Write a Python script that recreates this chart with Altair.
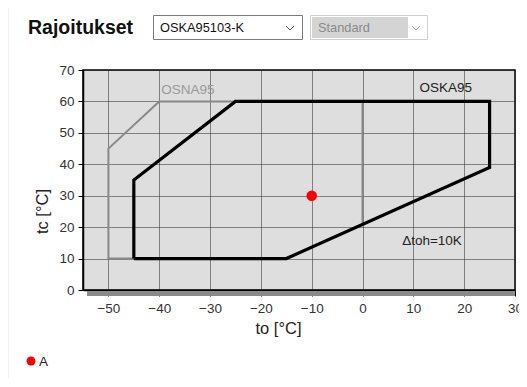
import altair as alt
import pandas as pd

# ---- data ----
oskb_to = [-45, -45, -25, 25, 25, -15, -45]
oskb_tc = [10, 35, 60, 60, 39, 10, 10]
osna_to = [-15, -50, -50, -40, 0, 0]
osna_tc = [10, 10, 45, 60, 60, 21]
point_to = [-10]
point_tc = [30]
x_ticks = [-50, -40, -30, -20, -10, 0, 10, 20, 30]
y_ticks = [0, 10, 20, 30, 40, 50, 60, 70]

W, H = 432, 220
FONT = "Liberation Sans"

xs = alt.Scale(domain=[-55, 30], nice=False, zero=False)
ys = alt.Scale(domain=[0, 70], nice=False, zero=False)

osk = pd.DataFrame({"to": oskb_to, "tc": oskb_tc, "i": range(len(oskb_to))})
osn = pd.DataFrame({"to": osna_to, "tc": osna_tc, "i": range(len(osna_to))})
pt = pd.DataFrame({"to": point_to, "tc": point_tc})
dummy = pd.DataFrame({"a": [0]})

xax = alt.Axis(values=x_ticks, title="to [°C]", grid=True, gridDash=[1, 1], gridColor="#222",
               gridWidth=1, domainColor="#000", domainWidth=1.5, tickColor="#000", tickSize=6,
               labelFont=FONT, labelFontSize=13.5, labelColor="#333", labelPadding=5, labelFlush=False,
               titleFont=FONT, titleFontSize=16.5, titleFontWeight="normal", titleColor="#222",
               titleX=195, titleY=38, titleBaseline="middle")
yax = alt.Axis(values=y_ticks, tickCount=8, title="tc [°C]", grid=True, gridDash=[1, 1], gridColor="#222",
               gridWidth=1, domainColor="#000", domainWidth=1.5, tickColor="#000", tickSize=5,
               labelFont=FONT, labelFontSize=13.5, labelColor="#333", labelPadding=4, labelOverlap=False,
               labelFlush=False,
               titleFont=FONT, titleFontSize=16.5, titleFontWeight="normal", titleColor="#222",
               titleX=-41, titleY=141, titleBaseline="middle")

X = alt.X("to:Q", scale=xs, axis=xax)
Y = alt.Y("tc:Q", scale=ys, axis=yax)

shadow = alt.Chart(dummy).mark_rect(color="#8a8a8a").encode(
    x=alt.value(4), x2=alt.value(W), y=alt.value(H + 1), y2=alt.value(H + 6))

base = alt.Chart(osn).mark_line(color="#888", strokeWidth=2).encode(x=X, y=Y, order="i:Q")

black = alt.Chart(osk).mark_line(color="#000", strokeWidth=3.2, strokeJoin="miter").encode(
    x=X, y=Y, order="i:Q")

dot = alt.Chart(pt).mark_point(filled=True, color="#ff0000", size=110, opacity=1).encode(x=X, y=Y)

lbl = pd.DataFrame({"to": [-39.6, 11.2, 7.8], "tc": [61.5, 62.0, 13.5],
                    "t": ["OSNA95", "OSKA95", "Δtoh=10K"], "c": ["#999", "#222", "#222"]})
labels = alt.Chart(lbl).mark_text(align="left", baseline="bottom", font=FONT, fontSize=13.5).encode(
    x=X, y=Y, text="t:N", color=alt.Color("c:N", scale=None))

# ---- UI decoration ----
def txt(s, x, y, size=12, color="#111", weight="normal", align="left"):
    return alt.Chart(dummy).mark_text(text=s, align=align, baseline="middle", font=FONT,
                                      fontSize=size, color=color, fontWeight=weight).encode(
        x=alt.value(x), y=alt.value(y))

def rect(x, x2, y, y2, fill, stroke=None):
    kw = dict(fill=fill)
    if stroke:
        kw.update(stroke=stroke, strokeWidth=1)
    return alt.Chart(dummy).mark_rect(**kw).encode(
        x=alt.value(x), x2=alt.value(x2), y=alt.value(y), y2=alt.value(y2))

def seg(x, y, x2, y2, color="#555", w=1):
    return alt.Chart(dummy).mark_rule(color=color, strokeWidth=w).encode(
        x=alt.value(x), y=alt.value(y), x2=alt.value(x2), y2=alt.value(y2))

ui = [
    seg(-75, -62, -75, 317, color="#e6e6e6"),
    txt("Rajoitukset", -55, -42, size=19.5, weight="bold"),
    rect(70.5, 219.5, -54.5, -30.5, "#fff", "#7a7a7a"),
    txt("OSKA95103-K", 77, -42, size=12.8),
    seg(203, -44, 207, -40, "#555"), seg(207, -40, 211, -44, "#555"),
    rect(227.5, 344.5, -54.5, -30.5, "#fff", "#cfcfcf"),
    rect(229, 325, -53, -32, "#d4d4d4"),
    txt("Standard", 235, -42, size=12.8, color="#8a8a8a"),
    seg(329, -44, 333, -40, "#aaa"), seg(333, -40, 337, -44, "#aaa"),
    alt.Chart(dummy).mark_point(filled=True, color="#ff0000", size=80, opacity=1).encode(
        x=alt.value(-52), y=alt.value(291)),
    txt("A", -44, 292, size=13.5, color="#222"),
]

chart = alt.layer(shadow, base, black, dot, labels, *ui).properties(
    width=W, height=H, autosize=alt.AutoSizeParams(type="none"),
    padding={"left": 75, "top": 62, "right": 4, "bottom": 89},
    background="#ffffff"
).configure_view(fill="#dedede", stroke="#000", strokeWidth=1.5)

chart.save("out.html", embed_options={"renderer": "svg", "actions": False})
